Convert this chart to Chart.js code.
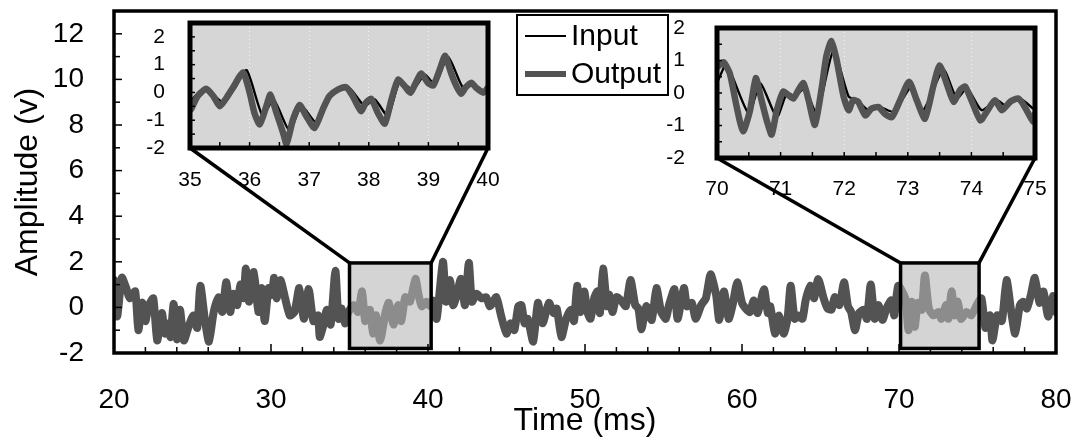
<!DOCTYPE html>
<html>
<head>
<meta charset="utf-8">
<script src="https://cdn.jsdelivr.net/npm/chart.js@4.4.1/dist/chart.umd.min.js"></script>
<style>
  html, body { margin: 0; padding: 0; background: #fff; }
  #wrap { position: relative; width: 1073px; height: 438px; overflow: hidden; }
  #wrap canvas { position: absolute; }
</style>
</head>
<body>
<div id="wrap">
  <canvas id="mainChart" width="1073" height="438" style="left:0;top:0"></canvas>
  <canvas id="inset1" width="370" height="190" style="left:130px;top:10px"></canvas>
  <canvas id="inset2" width="400" height="190" style="left:660px;top:15px"></canvas>
</div>
<script>
const FONT = "'Liberation Sans', Arial, Helvetica, sans-serif";
const GRAY = "#535353";

// main trace, 20-80 ms (output drawn over input, they coincide at this scale)
const mainTime = [20.0, 20.2, 20.5, 20.8, 21.0, 21.35, 21.55, 21.8, 22.0, 22.2, 22.5, 22.75, 23.05, 23.25, 23.5, 23.6, 23.8, 24.0, 24.2, 24.45,
  24.75, 25.05, 25.3, 25.5, 25.8, 26.05, 26.35, 26.65, 26.9, 27.15, 27.4, 27.6, 27.85, 28.05, 28.25, 28.4, 28.6, 28.9, 29.2, 29.4,
  29.6, 29.85, 30.05, 30.2, 30.35, 30.6, 30.9, 31.2, 31.5, 31.8, 32.1, 32.4, 32.7, 33.0, 33.1, 33.35, 33.55, 33.8, 34.1, 34.3,
  34.5, 34.7, 34.9, 35.25, 35.55, 35.8, 36.0, 36.3, 36.5, 36.7, 36.95, 37.3, 37.5, 37.8, 38.1, 38.3, 38.55, 38.85, 39.2, 39.4,
  39.6, 39.9, 40.15, 40.3, 40.55, 40.95, 41.15, 41.4, 41.6, 41.8, 42.1, 42.35, 42.6, 42.8, 43.1, 43.4, 43.7, 43.95, 44.35, 44.65,
  45.0, 45.25, 45.5, 45.75, 45.95, 46.15, 46.35, 46.7, 47.0, 47.3, 47.7, 48.0, 48.2, 48.5, 48.8, 49.1, 49.3, 49.5, 49.7, 49.95,
  50.15, 50.35, 50.6, 50.8, 50.95, 51.15, 51.4, 51.55, 51.75, 52.0, 52.3, 52.6, 52.9, 53.2, 53.4, 53.6, 53.9, 54.25, 54.55, 54.85,
  55.15, 55.35, 55.7, 55.9, 56.3, 56.5, 56.8, 57.05, 57.4, 57.7, 58.0, 58.35, 58.55, 58.85, 59.15, 59.4, 59.7, 60.0, 60.3, 60.5,
  60.75, 61.0, 61.4, 61.65, 61.8, 62.1, 62.35, 62.65, 62.9, 63.1, 63.35, 63.6, 63.85, 64.05, 64.35, 64.6, 64.85, 65.2, 65.45, 65.7,
  65.9, 66.2, 66.5, 66.75, 66.95, 67.2, 67.45, 67.75, 67.95, 68.2, 68.45, 68.7, 68.95, 69.2, 69.5, 69.7, 69.95, 70.4, 70.6, 70.8,
  71.0, 71.2, 71.45, 71.65, 71.9, 72.2, 72.5, 72.7, 73.0, 73.15, 73.35, 73.55, 73.75, 73.95, 74.3, 74.6, 74.95, 75.25, 75.5, 75.8,
  75.95, 76.25, 76.55, 76.85, 77.15, 77.4, 77.7, 77.9, 78.15, 78.4, 78.65, 78.95, 79.2, 79.5, 79.8, 80.0];
const mainOutput = [1.2, -0.4, 1.3, 0.8, 0.4, 0.7, -1.0, 0.2, -0.6, 0.05, 0.4, -1.45, -0.25, -1.15, -0.7, -1.3, 0.15, -1.4, -0.1, -1.45,
  -0.85, -0.35, -0.9, 0.95, -0.6, -1.5, -0.2, 0.45, -0.2, 1.1, -0.2, 0.6, 0.1, 1.0, 0.4, 1.7, 0.25, 1.55, -0.2, 0.85,
  -0.6, 0.85, 0.55, 1.3, 0.4, 1.2, 0.4, -0.35, -0.2, 0.85, -0.5, 0.8, -0.6, -0.35, -1.3, -0.75, -0.1, -0.75, 1.6, -0.5,
  -0.05, -0.7, -0.25, 0.1, -0.2, 0.7, -0.6, -0.1, -1.15, -0.35, -1.45, -0.2, 0.2, -0.75, 0.1, -0.6, 0.45, 0.25, 1.25, 0.55,
  0.05, 0.25, 0.05, 0.3, -0.5, 2.0, 0.25, 1.2, 0.1, 0.45, 1.25, 0.1, 1.95, 0.25, 0.6, 0.4, 0.45, 0.05, 0.45, -0.35,
  -1.15, -0.7, -1.0, 0.05, 0.1, -0.7, -0.5, -1.5, 0.2, -0.7, 0.2, -0.25, -0.05, -1.3, -0.5, -0.1, -0.6, 0.95, -0.2, 0.7,
  -0.2, -0.5, 0.45, 0.7, -0.25, 1.7, 0.05, 0.55, -0.2, 0.45, 0.3, 0.05, 1.2, 0.1, -0.05, -0.95, 0.05, -0.55, 0.85, -0.2,
  -0.5, 0.1, 0.8, -0.5, 0.85, 0.05, 0.2, -0.5, 0.1, 0.4, 1.45, 0.55, -0.55, 0.7, -0.5, 0.1, 1.1, 0.2, -0.1, -0.2,
  0.3, -0.25, 0.8, -0.25, 0.05, -1.15, -0.35, -1.15, -0.5, 0.95, -0.5, -0.35, -0.5, 0.3, 0.95, 0.4, 1.25, 0.4, -0.05, -0.1,
  0.45, 0.1, 1.1, 0.05, -0.2, -1.0, -0.25, -0.1, -0.5, 1.0, -0.5, 0.1, -0.55, -0.05, 0.3, -0.35, 0.95, 0.4, -1.0, 0.25,
  -0.85, 0.2, -0.1, 1.4, -0.05, -0.35, -0.2, -0.5, 0.1, -0.5, 0.7, -0.35, 0.25, -0.5, -0.2, -0.35, 0.1, 0.4, -0.9, -0.35,
  -1.45, -0.35, -0.6, 1.2, -0.2, -1.15, 0.1, 0.25, -0.05, 0.55, 1.3, 0.2, 0.7, -0.4, 0.5, -0.2];

// inset 1, 35-40 ms
const inset1OutTime = [35.02, 35.13, 35.27, 35.39, 35.5, 35.61, 35.72, 35.89, 36.0, 36.08, 36.17, 36.28, 36.35, 36.45, 36.56, 36.62, 36.73, 36.84, 36.95, 37.09,
  37.23, 37.34, 37.48, 37.62, 37.73, 37.87, 37.95, 38.04, 38.15, 38.27, 38.38, 38.49, 38.6, 38.7, 38.8, 38.88, 38.99, 39.08, 39.19, 39.28,
  39.38, 39.47, 39.55, 39.62, 39.72, 39.8, 39.92, 40.0];
const inset1Output = [-0.6, -0.13, 0.13, -0.13, -0.5, -0.2, 0.17, 0.72, 0.0, -0.73, -1.15, -0.5, -0.08, -0.73, -1.44, -1.85, -0.96, -0.45, -0.85, -1.28,
  -0.6, -0.13, 0.1, 0.19, -0.13, -0.67, -0.37, -0.23, -0.73, -1.12, -0.25, 0.46, 0.23, -0.01, 0.4, 0.68, 0.35, 0.25, 0.82, 1.32,
  0.7, 0.23, -0.05, 0.17, 0.35, 0.17, -0.01, 0.18];
const inset1InTime = [35.0, 35.17, 35.3, 35.55, 35.75, 35.95, 36.22, 36.4, 36.67, 36.87, 37.12, 37.37, 37.65, 37.93, 38.1, 38.32, 38.52, 38.74, 38.94, 39.11,
  39.33, 39.58, 39.75, 39.94, 40.0];
const inset1Input = [-0.35, 0.05, 0.1, -0.35, 0.15, 0.8, -0.85, -0.25, -1.38, -0.49, -1.08, -0.13, 0.2, -0.49, -0.25, -0.85, 0.4, 0.1, 0.64, 0.29,
  1.28, 0.17, 0.29, 0.05, 0.17];

// inset 2, 70-75 ms
const inset2OutTime = [70.02, 70.1, 70.2, 70.31, 70.41, 70.52, 70.61, 70.7, 70.79, 70.86, 70.94, 71.04, 71.12, 71.2, 71.28, 71.36, 71.44, 71.54, 71.65, 71.72,
  71.8, 71.88, 71.99, 72.07, 72.14, 72.22, 72.33, 72.43, 72.54, 72.64, 72.75, 72.88, 73.02, 73.14, 73.27, 73.4, 73.5, 73.61, 73.72, 73.82,
  73.9, 74.0, 74.14, 74.24, 74.37, 74.48, 74.61, 74.74, 74.84, 74.97, 75.0];
const inset2Output = [0.82, 0.95, 0.61, -0.43, -1.18, -0.53, 0.46, -0.22, -0.9, -1.28, -0.53, 0.04, -0.06, -0.17, 0.09, 0.3, -0.22, -0.98, 0.2, 1.14,
  1.6, 1.03, -0.11, -0.53, -0.22, -0.27, -0.69, -0.48, -0.43, -0.64, -0.74, -0.22, 0.35, -0.22, -0.79, 0.2, 0.85, 0.3, -0.27, 0.09,
  0.2, -0.22, -0.84, -0.58, -0.22, -0.53, -0.27, -0.17, -0.43, -0.88, -0.63];
const inset2InTime = [70.02, 70.15, 70.5, 70.68, 70.94, 71.1, 71.23, 71.38, 71.57, 71.83, 72.07, 72.2, 72.38, 72.56, 72.78, 73.06, 73.24, 73.56, 73.77, 73.93,
  74.16, 74.4, 74.53, 74.76, 75.0];
const inset2Input = [0.4, 0.88, -0.64, 0.3, -0.74, 0.0, -0.1, 0.15, -0.64, 1.3, -0.11, -0.22, -0.53, -0.43, -0.58, 0.2, -0.53, 0.72, -0.17, 0.15,
  -0.53, -0.22, -0.38, -0.17, -0.53];

// tick labels
const mainXLabels = [20, 30, 40, 50, 60, 70, 80];
const mainYLabels = [-2, 0, 2, 4, 6, 8, 10, 12];
const inset1XLabels = [35, 36, 37, 38, 39, 40];
const inset2XLabels = [70, 71, 72, 73, 74, 75];
const insetYLabels = [-2, -1, 0, 1, 2];

// zoomed windows on the main plot: [t0, t1], amplitude [lo, hi]
const zoomWindows = [[35.0, 40.2], [70.1, 75.1]];
const zoomAmp = [-1.8, 1.95];

const pts = (xs, ys) => xs.map((x, i) => ({ x: x, y: ys[i] }));

// set the box size and drop the label padding chart.js adds round the area
function fixBox(w, h) {
  return s => {
    if (w != null) s.width = w;
    if (h != null) s.height = h;
    s.paddingLeft = s.paddingRight = s.paddingTop = s.paddingBottom = 0;
  };
}

function line(ctx, x1, y1, x2, y2) {
  ctx.beginPath();
  ctx.moveTo(x1, y1);
  ctx.lineTo(x2, y2);
  ctx.stroke();
}

const lineDefaults = { pointRadius: 0, tension: 0.2, fill: false, borderJoinStyle: "round", borderCapStyle: "round" };

function makeInset(id, o) {
  return new Chart(document.getElementById(id), {
    type: "line",
    data: {
      datasets: [
        Object.assign({ label: "Output", data: pts(o.outT, o.outV), borderColor: GRAY, borderWidth: 6.5, order: 0 }, lineDefaults),
        Object.assign({ label: "Input", data: pts(o.inT, o.inV), borderColor: "#000", borderWidth: 2.4, order: 1 }, lineDefaults)
      ]
    },
    options: {
      responsive: false,
      animation: false,
      events: [],
      layout: { padding: { left: 0, right: o.padRight, top: 13, bottom: 0 } },
      plugins: { legend: { display: false }, tooltip: { enabled: false } },
      scales: {
        x: {
          type: "linear", min: o.xMin, max: o.xMax,
          afterFit: fixBox(null, o.xHeight),
          ticks: {
            stepSize: 0.5, autoSkip: false, maxRotation: 0, padding: o.xPad, color: "#000",
            font: { family: FONT, size: 21 },
            callback: v => o.xLabels.includes(v) ? v : ""
          },
          grid: {
            drawTicks: false,
            color: c => (Number.isInteger(c.tick.value) && c.tick.value > o.xMin && c.tick.value < o.xMax) ? "rgba(255,255,255,0.7)" : "rgba(0,0,0,0)"
          },
          border: { display: false, dash: [1, 3] }
        },
        y: {
          min: -2, max: o.yMax,
          afterFit: fixBox(o.yWidth, null),
          ticks: {
            stepSize: 0.5, autoSkip: false, padding: o.yPad, color: "#000",
            font: { family: FONT, size: 21 },
            callback: v => insetYLabels.includes(v) ? v : ""
          },
          grid: { display: false },
          border: { display: false }
        }
      }
    },
    plugins: [{
      id: "insetFrame",
      beforeDraw(chart) {
        const a = chart.chartArea, ctx = chart.ctx;
        ctx.save();
        ctx.fillStyle = "#d6d6d6";
        ctx.fillRect(a.left, a.top, a.right - a.left, a.bottom - a.top);
        ctx.restore();
      },
      afterDraw(chart) {
        const a = chart.chartArea, ctx = chart.ctx;
        const xs = chart.scales.x, ys = chart.scales.y;
        ctx.save();
        ctx.strokeStyle = "#000";
        ctx.lineWidth = 1.5;
        xs.ticks.forEach(t => {
          const px = xs.getPixelForValue(t.value);
          line(ctx, px, a.bottom, px, a.bottom - 6);
        });
        ys.ticks.forEach(t => {
          const py = ys.getPixelForValue(t.value);
          line(ctx, a.left, py, a.left + 5, py);
        });
        ctx.lineWidth = 5;
        ctx.strokeRect(a.left, a.top, a.right - a.left, a.bottom - a.top);
        ctx.restore();
      }
    }]
  });
}

const inset1 = makeInset("inset1", {
  outT: inset1OutTime, outV: inset1Output, inT: inset1InTime, inV: inset1Input,
  xMin: 35, xMax: 40, yMax: 2.5, xLabels: inset1XLabels,
  padRight: 12, xHeight: 52, yWidth: 60, xPad: 20, yPad: 17
});
const inset2 = makeInset("inset2", {
  outT: inset2OutTime, outV: inset2Output, inT: inset2InTime, inV: inset2Input,
  xMin: 70, xMax: 75, yMax: 2, xLabels: inset2XLabels,
  padRight: 25, xHeight: 47, yWidth: 57, xPad: 19, yPad: 24
});

const mainDecor = {
  id: "mainDecor",
  afterDatasetsDraw(chart) {
    const ctx = chart.ctx, xs = chart.scales.x, ys = chart.scales.y;
    const top = ys.getPixelForValue(zoomAmp[1]), bot = ys.getPixelForValue(zoomAmp[0]);
    ctx.save();
    zoomWindows.forEach((w, i) => {
      const l = xs.getPixelForValue(w[0]), r = xs.getPixelForValue(w[1]);
      ctx.fillStyle = "rgba(181,181,181,0.58)";
      ctx.fillRect(l, top, r - l, bot - top);
      ctx.strokeStyle = "#000";
      ctx.lineWidth = 3.5;
      ctx.strokeRect(l, top, r - l, bot - top);
      // connectors to the inset plot corners
      const ins = [inset1, inset2][i];
      const c = ins.canvas, a = ins.chartArea;
      const il = c.offsetLeft + a.left, ir = c.offsetLeft + a.right, ib = c.offsetTop + a.bottom;
      line(ctx, il, ib, l, top);
      line(ctx, ir, ib, r, top);
    });
    ctx.restore();
  },
  afterDraw(chart) {
    const ctx = chart.ctx, a = chart.chartArea, xs = chart.scales.x, ys = chart.scales.y;
    ctx.save();
    ctx.strokeStyle = "#000";
    ctx.lineWidth = 1.5;
    xs.ticks.forEach(t => {
      const px = xs.getPixelForValue(t.value);
      const len = t.value % 10 === 0 ? 9 : 6;
      line(ctx, px, a.bottom, px, a.bottom - len);
    });
    ys.ticks.forEach(t => {
      const py = ys.getPixelForValue(t.value);
      const len = t.value % 2 === 0 ? 8 : 6;
      line(ctx, a.left, py, a.left + len, py);
    });
    ctx.lineWidth = 3.5;
    ctx.strokeRect(a.left, a.top, a.right - a.left, a.bottom - a.top);

    // legend
    ctx.fillStyle = "#fff";
    ctx.fillRect(517, 15, 151, 80);
    ctx.lineWidth = 2;
    ctx.strokeRect(517, 15, 151, 80);
    ctx.strokeStyle = "#000";
    ctx.lineWidth = 1.8;
    line(ctx, 525, 36, 566, 36);
    ctx.strokeStyle = GRAY;
    ctx.lineWidth = 6;
    line(ctx, 525, 74, 566, 74);
    ctx.fillStyle = "#000";
    ctx.font = "30px " + FONT;
    ctx.textBaseline = "middle";
    ctx.textAlign = "left";
    ctx.fillText("Input", 571, 37);
    ctx.fillText("Output", 571, 75);
    ctx.restore();
  }
};

new Chart(document.getElementById("mainChart"), {
  type: "line",
  data: {
    datasets: [
      Object.assign({ label: "Output", data: pts(mainTime, mainOutput), borderColor: GRAY, borderWidth: 8 }, lineDefaults)
    ]
  },
  options: {
    responsive: false,
    animation: false,
    events: [],
    layout: { padding: { left: 0, right: 17, top: 11, bottom: 0 } },
    plugins: { legend: { display: false }, tooltip: { enabled: false } },
    scales: {
      x: {
        type: "linear", min: 20, max: 80,
        afterFit: fixBox(null, 85),
        ticks: {
          stepSize: 2, autoSkip: false, maxRotation: 0, padding: 22, color: "#000",
          font: { family: FONT, size: 28 },
          callback: v => mainXLabels.includes(v) ? v : ""
        },
        grid: { display: false },
        border: { display: false },
        title: {
          display: true, text: "Time (ms)", color: "#000",
          font: { family: FONT, size: 32, lineHeight: 1 },
          padding: { top: 0, bottom: 1 }
        }
      },
      y: {
        min: -2, max: 13,
        afterFit: fixBox(114, null),
        ticks: {
          stepSize: 1, autoSkip: false, padding: 22, color: "#000",
          font: { family: FONT, size: 28 },
          callback: v => mainYLabels.includes(v) ? v : ""
        },
        grid: { display: false },
        border: { display: false },
        title: {
          display: true, text: "Amplitude (v)", color: "#000",
          font: { family: FONT, size: 32, lineHeight: 1 },
          padding: { top: 12, bottom: 0 }
        }
      }
    }
  },
  plugins: [mainDecor]
});
</script>
</body>
</html>
